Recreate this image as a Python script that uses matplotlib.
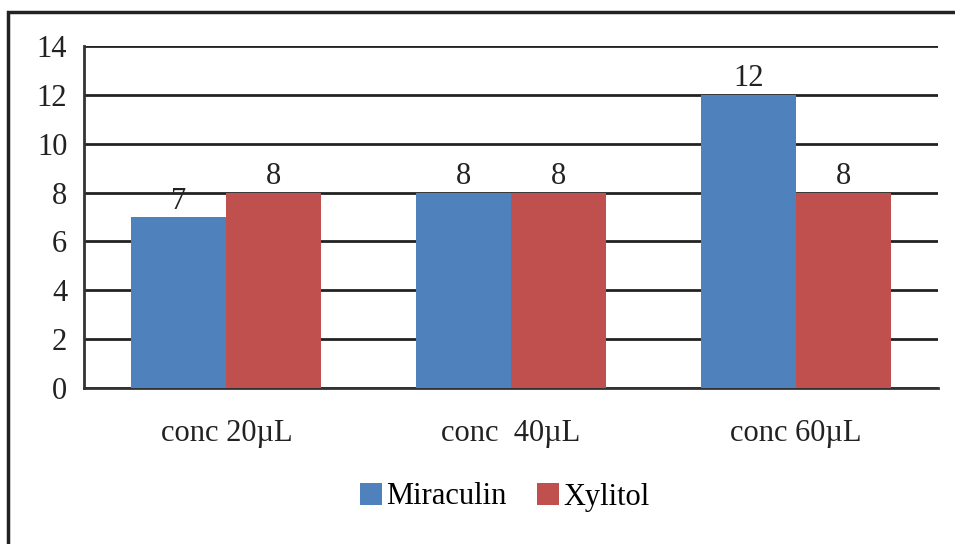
import matplotlib.pyplot as plt
import numpy as np
from matplotlib.patches import Rectangle

categories = ["conc 20\u00b5L", "conc  40\u00b5L", "conc 60\u00b5L"]
miraculin = [7, 8, 12]
xylitol = [8, 8, 8]

BLUE = "#4F81BD"
RED = "#C0504D"

plt.rcParams["font.family"] = ["Liberation Serif", "DejaVu Serif"]

fig = plt.figure(figsize=(9.55, 5.44), dpi=100)
ax = fig.add_axes([84 / 955, 1 - 388 / 544, (938 - 84) / 955, (388 - 46) / 544])

x = np.arange(len(categories))
w = 1 / 3
b1 = ax.bar(x - w / 2, miraculin, w, color=BLUE, label="Miraculin", zorder=3)
b2 = ax.bar(x + w / 2, xylitol, w, color=RED, label="Xylitol", zorder=3)
for bars in (b1, b2):
    ax.bar_label(bars, padding=1, fontsize=22, color="#222222")

ax.set_xlim(-0.5, 2.5)
ax.set_ylim(0, 14)
ax.set_yticks(range(0, 15, 2))
ax.yaxis.grid(True, color="#222222", linewidth=2, zorder=1)
ax.set_axisbelow(True)
for s in ("top", "right"):
    ax.spines[s].set_visible(False)
ax.spines["left"].set_linewidth(2)
ax.spines["bottom"].set_linewidth(2)
ax.spines["left"].set_color("#333333")
ax.spines["bottom"].set_color("#333333")
ax.tick_params(axis="both", length=0, labelsize=22, colors="#222222")
ax.tick_params(axis="y", pad=12)
ax.tick_params(axis="x", pad=22)
ax.set_xticks(x)
ax.set_xticklabels(categories)

fig.legend(loc="center", bbox_to_anchor=(505 / 955, 1 - 497 / 544), ncol=2,
           frameon=False, fontsize=22, handlelength=0.7, handleheight=0.7,
           handletextpad=0.15, columnspacing=1.0)

fig.patches.append(Rectangle((8 / 955, -0.05), 1.1, 1 - 12 / 544 + 0.05,
                             transform=fig.transFigure, fill=False,
                             edgecolor="#222222", linewidth=2.5))

fig.savefig("out.png", dpi=100)
